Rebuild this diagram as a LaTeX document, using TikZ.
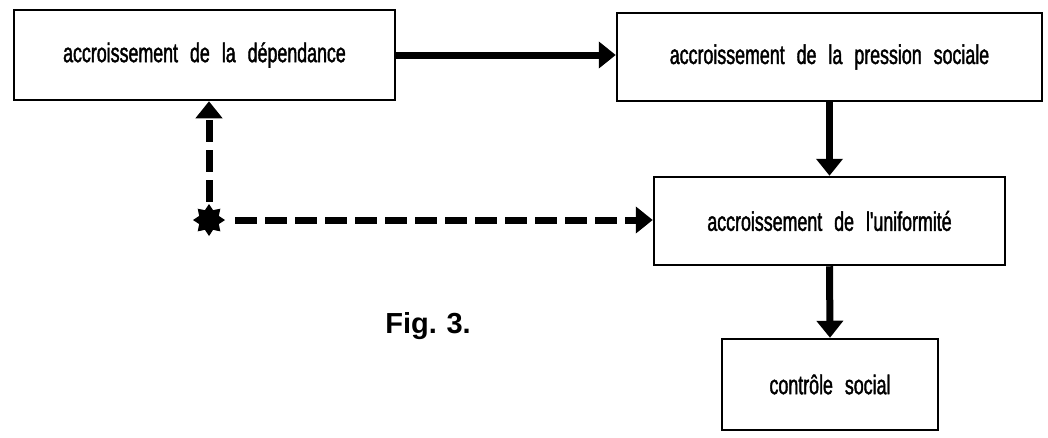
\documentclass[tikz,border=0pt]{standalone}
\usepackage{fontspec}
\setmainfont{Liberation Sans}
\newfontfamily\boxfont[FakeStretch=0.66,FakeBold=1.5]{Liberation Sans}
\usetikzlibrary{arrows.meta,shapes.geometric}

\tikzset{
	etape/.style={draw, line width=2.5pt, inner sep=0pt,
		font={\boxfont\fontsize{27}{32}\selectfont\spaceskip=12pt}},
	fleche/.style={line width=7pt, -{Triangle[length=17pt,width=26pt]}},
	pointille/.style={fleche, dash pattern=on 22pt off 8pt},
}

\begin{document}
\begin{tikzpicture}[x=1pt,y=-1pt]
	\useasboundingbox (0,0) rectangle (1048,437);
	
	\node[etape, minimum width=381pt, minimum height=90pt] at (204.5,55) (dependance) {accroissement de la dépendance};
	\node[etape, minimum width=425pt, minimum height=88pt] at (829.5,57) (pression) {accroissement de la pression sociale};
	\node[etape, minimum width=351pt, minimum height=88pt] at (829.5,221) (uniformite) {accroissement de l'uniformité};
	\node[etape, minimum width=216pt, minimum height=91pt] at (830,384.5) (controle) {contrôle social};
	
	\node[star, star points=8, star point ratio=1.5, fill, minimum size=32pt, inner sep=0pt] at (209,220) (source) {}; %asterisque
	\node[font=\bfseries\fontsize{29}{34}\selectfont] at (428,326) (legende) {Fig.\,\,3.};
	
	\draw[fleche] (dependance.east) -- (dependance.east -| pression.west);
	\draw[fleche] (pression.south) -- (uniformite.north);
	\draw[fleche] (uniformite.south) -- (controle.north);
	
	\draw[pointille, shorten <=2pt] (source) -- (source |- dependance.south); %vers le haut
	\draw[pointille, shorten <=10pt] (source) -- (source -| uniformite.west); %vers la droite
\end{tikzpicture}
\end{document}
